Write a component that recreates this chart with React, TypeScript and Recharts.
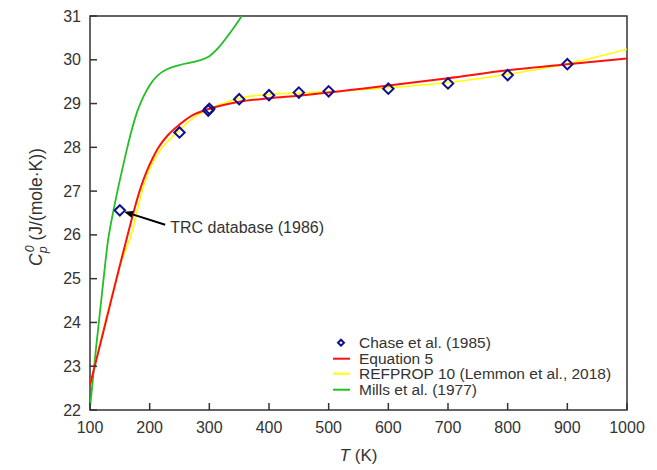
import {
  ComposedChart,
  Legend,
  Line,
  ReferenceArea,
  ReferenceLine,
  Scatter,
  XAxis,
  YAxis,
} from "recharts";

// Ideal-gas heat capacity of the gas, 100–1000 K
const T_TICKS = [100, 200, 300, 400, 500, 600, 700, 800, 900, 1000];
const CP_TICKS = [22, 23, 24, 25, 26, 27, 28, 29, 30, 31];

// Chase et al. (1985) tabulated values
const CHASE_T = [250, 298.15, 300, 350, 400, 450, 500, 600, 700, 800, 900];
const CHASE_CP = [28.34, 28.84, 28.88, 29.1, 29.19, 29.25, 29.28, 29.34, 29.46, 29.65, 29.9];

// single TRC database (1986) point
const TRC_T = [150];
const TRC_CP = [26.56];

// Equation 5
const EQ5_T = [100, 125, 150, 165, 175, 185, 195, 205, 215, 230, 250, 270, 300, 350, 400, 450, 500, 600, 700, 800, 900, 1000];
const EQ5_CP = [22.57, 23.93, 25.3, 26.1, 26.62, 27.08, 27.45, 27.75, 28.0, 28.27, 28.52, 28.72, 28.88, 29.04, 29.12, 29.18, 29.25, 29.41, 29.58, 29.76, 29.9, 30.03];

// REFPROP 10 (Lemmon et al., 2018)
const REFPROP_T = [100, 125, 150, 172, 180, 190, 200, 212, 225, 250, 275, 300, 350, 400, 450, 500, 600, 700, 800, 900, 1000];
const REFPROP_CP = [22.57, 23.98, 25.28, 26.15, 26.6, 27.12, 27.5, 27.82, 28.06, 28.4, 28.69, 28.87, 29.12, 29.21, 29.24, 29.27, 29.36, 29.48, 29.67, 29.91, 30.24];

// Mills et al. (1977) — runs off the top of the plot
const MILLS_T = [100, 110, 120, 130, 140, 150, 160, 170, 180, 190, 200, 215, 230, 250, 270, 285, 300, 315, 335, 355, 370];
const MILLS_CP = [22.05, 23.4, 24.65, 25.85, 26.6, 27.25, 27.85, 28.4, 28.85, 29.17, 29.42, 29.66, 29.79, 29.88, 29.94, 29.99, 30.08, 30.27, 30.62, 31.02, 31.4];

const zip = (ts: number[], cps: number[]) => ts.map((t, i) => ({ t, cp: cps[i] }));

const chase = zip(CHASE_T, CHASE_CP);
const trc = zip(TRC_T, TRC_CP);
const eq5 = zip(EQ5_T, EQ5_CP);
const refprop = zip(REFPROP_T, REFPROP_CP);
const mills = zip(MILLS_T, MILLS_CP);

const FONT = '"Liberation Sans", Arial, Helvetica, sans-serif';
const INK = "#333";
const NAVY = "#10108a";
const RED = "#ff1010";
const YELLOW = "#ffff00";
const GREEN = "#22c022";

const W = 657;
const H = 470;
const PLOT = { left: 90, right: 627, top: 16, bottom: 410 };
const TICK_LEN = 7;
const LEGEND_ROW = 15.5;

const LEGEND_ITEMS = [
  { name: "Chase et al. (1985)", kind: "marker", color: NAVY },
  { name: "Equation 5", kind: "line", color: RED },
  { name: "REFPROP 10 (Lemmon et al., 2018)", kind: "line", color: YELLOW },
  { name: "Mills et al. (1977)", kind: "line", color: GREEN },
];

function Diamond({ cx, cy }: any) {
  const r = 5.2;
  return (
    <path
      d={`M${cx},${cy - r}L${cx + r},${cy}L${cx},${cy + r}L${cx - r},${cy}Z`}
      fill="none"
      stroke={NAVY}
      strokeWidth={2}
    />
  );
}

function XTick({ x, payload }: any) {
  return (
    <g>
      <line x1={x} x2={x} y1={PLOT.bottom} y2={PLOT.bottom - TICK_LEN} stroke={INK} strokeWidth={1.5} />
      <text x={x} y={PLOT.bottom + 23} textAnchor="middle" fontSize={16} fill={INK} fontFamily={FONT}>
        {payload.value}
      </text>
    </g>
  );
}

function YTick({ y, payload }: any) {
  return (
    <g>
      <line x1={PLOT.left} x2={PLOT.left + TICK_LEN} y1={y} y2={y} stroke={INK} strokeWidth={1.5} />
      <text x={PLOT.left - 9} y={y + 5.5} textAnchor="end" fontSize={16} fill={INK} fontFamily={FONT}>
        {payload.value}
      </text>
    </g>
  );
}

function YLabel() {
  const x = 42;
  const y = 207;
  return (
    <text
      x={x}
      y={y}
      transform={`rotate(-90, ${x}, ${y})`}
      textAnchor="middle"
      fontSize={17.5}
      fill={INK}
      fontFamily={FONT}
    >
      <tspan fontStyle="italic">C</tspan>
      <tspan fontStyle="italic" fontSize={12.5} dy={5}>p</tspan>
      <tspan fontStyle="italic" fontSize={12.5} dx={-6} dy={-13}>0</tspan>
      <tspan dy={8}> (J/(mole·K))</tspan>
    </text>
  );
}

function XLabel() {
  return (
    <text
      x={(PLOT.left + PLOT.right) / 2}
      y={461}
      textAnchor="middle"
      fontSize={17}
      fill={INK}
      fontFamily={FONT}
    >
      <tspan fontStyle="italic">T</tspan> (K)
    </text>
  );
}

// arrow pointing at the TRC point, with its caption at the tail
function TrcArrow({ x1, y1, x2, y2 }: any) {
  const ang = Math.atan2(y2 - y1, x2 - x1);
  const len = 9;
  const half = 3.5;
  const bx = x2 - len * Math.cos(ang);
  const by = y2 - len * Math.sin(ang);
  const px = -Math.sin(ang) * half;
  const py = Math.cos(ang) * half;
  return (
    <g>
      <line x1={x1} y1={y1} x2={bx} y2={by} stroke="#000" strokeWidth={2} />
      <polygon points={`${x2},${y2} ${bx + px},${by + py} ${bx - px},${by - py}`} fill="#000" />
      <text x={x1 + 5} y={y1 + 8} fontSize={16} fill={INK} fontFamily={FONT}>
        TRC database (1986)
      </text>
    </g>
  );
}

function LegendBox() {
  return (
    <div style={{ fontFamily: FONT, fontSize: 15.5, color: INK }}>
      {LEGEND_ITEMS.map((it) => (
        <div key={it.name} style={{ display: "flex", alignItems: "center", height: LEGEND_ROW, whiteSpace: "nowrap" }}>
          <svg width={24} height={LEGEND_ROW} style={{ flex: "none" }}>
            {it.kind === "marker" ? (
              <path d="M11,4.7L14,7.7L11,10.7L8,7.7Z" fill="none" stroke={it.color} strokeWidth={2} />
            ) : (
              <line x1={3} x2={20} y1={7.7} y2={7.7} stroke={it.color} strokeWidth={2} />
            )}
          </svg>
          <span style={{ display: "block", marginLeft: 5, height: LEGEND_ROW, lineHeight: `${LEGEND_ROW}px` }}>
            {it.name}
          </span>
        </div>
      ))}
    </div>
  );
}

export default function App() {
  return (
    <div style={{ position: "absolute", left: 0, top: 0, width: W, height: H, background: "#fff" }}>
      <ComposedChart
        width={W}
        height={H}
        margin={{ top: PLOT.top, right: W - PLOT.right, bottom: H - PLOT.bottom - 30, left: PLOT.left - 60 }}
      >
        <XAxis
          type="number"
          dataKey="t"
          domain={[100, 1000]}
          ticks={T_TICKS}
          allowDataOverflow
          height={30}
          axisLine={false}
          tickLine={false}
          tick={<XTick />}
          interval={0}
        />
        <YAxis
          type="number"
          dataKey="cp"
          domain={[22, 31]}
          ticks={CP_TICKS}
          allowDataOverflow
          width={60}
          axisLine={false}
          tickLine={false}
          tick={<YTick />}
          interval={0}
        />
        <Line data={mills} dataKey="cp" type="monotone" stroke={GREEN} strokeWidth={1.8} dot={false} isAnimationActive={false} name="Mills et al. (1977)" />
        <Line data={refprop} dataKey="cp" type="monotone" stroke={YELLOW} strokeWidth={1.6} dot={false} isAnimationActive={false} name="REFPROP 10 (Lemmon et al., 2018)" />
        <Line data={eq5} dataKey="cp" type="monotone" stroke={RED} strokeWidth={2} dot={false} isAnimationActive={false} name="Equation 5" />
        <Scatter data={chase} shape={<Diamond />} isAnimationActive={false} name="Chase et al. (1985)" />
        <Scatter data={trc} shape={<Diamond />} isAnimationActive={false} legendType="none" />
        <ReferenceLine
          segment={[
            { x: 226, y: 26.23 },
            { x: 157, y: 26.53 },
          ]}
          shape={<TrcArrow />}
        />
        <ReferenceArea x1={100} x2={1000} y1={22} y2={31} fill="none" stroke={INK} strokeWidth={1.5} />
        <Legend
          layout="vertical"
          align="center"
          verticalAlign="middle"
          content={<LegendBox />}
          wrapperStyle={{ left: 330, top: 335, width: 300 }}
        />
        <YLabel />
        <XLabel />
      </ComposedChart>
    </div>
  );
}
